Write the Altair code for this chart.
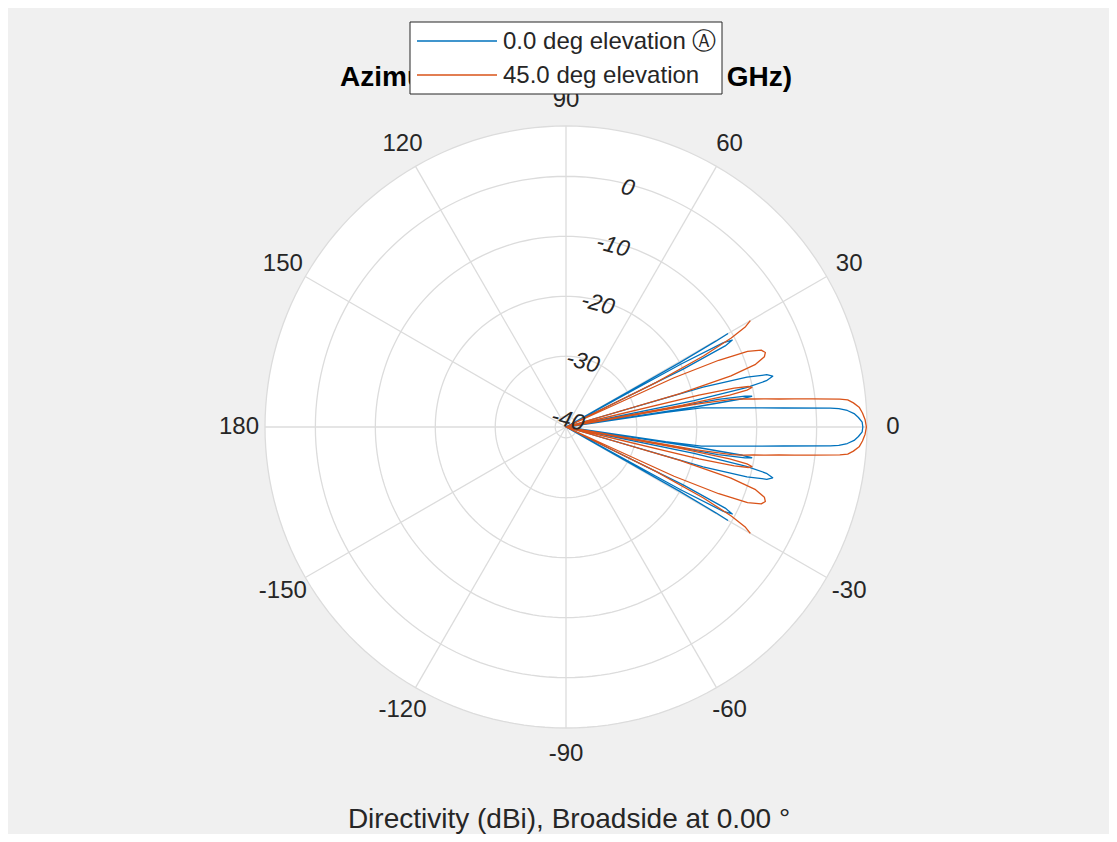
import altair as alt
import pandas as pd
import math

# ---------------- data ----------------
series_names = ["0.0 deg elevation \u24b6", "45.0 deg elevation"]
series_colors = ["#0072BD", "#D95319"]

# azimuth (deg) and directivity (dBi) along each curve; -45 = below the plot floor
blue_az = [-30, -29.8, -29.5, -29.1, -28.7, -28.2, -27.6, -27, -26.3, -25.6,
           -16.8, -16.2, -15.4, -14.6, -13.8, -13, -12.3, -11.6, -11.0,
           -10.8, -10.3, -9.8, -9.4, -9.1, -8.8, -8.6,
           -8.4, -8, -7, -6, -5, -4.1, -3.86, -3.36, -2.67, -1.86, -0.95,
           0, 0.95, 1.86, 2.67, 3.36, 3.86, 4.1, 5, 6, 7, 8, 8.4,
           8.6, 8.8, 9.1, 9.4, 9.8, 10.3, 10.8,
           11.0, 11.6, 12.3, 13, 13.8, 14.6, 15.4, 16.2, 16.8,
           25.6, 26.3, 27, 27.6, 28.2, 28.7, 29.1, 29.5, 29.8, 30]
blue_db = [-10.6, -13, -20, -45, -20, -12, -10.5, -12, -20, -45,
           -45, -18, -10.5, -7.2, -6.3, -7.5, -11, -20, -45,
           -45, -16, -11.5, -10.4, -12, -20, -45,
           -25, -19.0, -15.7, -11.4, -5.4, 2.4, 3.8, 5.2, 6.3, 7.0, 7.6,
           7.7, 7.6, 7.0, 6.3, 5.2, 3.8, 2.4, -5.4, -11.4, -15.7, -19.0, -25,
           -45, -20, -12, -10.4, -11.5, -16, -45,
           -45, -20, -11, -7.5, -6.3, -7.2, -10.5, -18, -45,
           -45, -20, -12, -10.5, -12, -20, -45, -20, -13, -10.6]

red_az = [-30, -29.2, -28.3, -27.3, -26.3, -25.3, -24.5, -23.6, -22.6, -21.5,
          -20.5, -19.5, -18.3, -17.2, -16.3, -13.9, -13.5, -13, -12.5, -12,
          -11.5, -11, -10.6, -10.3, -10, -9.5, -9, -8.5, -8, -7.5, -7, -6.5, -5.8,
          -5.5, -4.8, -3.87, -2.7, -1.38, 0, 1.38, 2.7, 3.87, 4.8, 5.5, 5.8,
          6.5, 7, 7.5, 8, 8.5, 9, 9.5,
          10, 10.3, 10.6, 11, 11.5, 12, 12.5, 13, 13.5, 13.9,
          16.3, 17.2, 18.3, 19.5, 20.5, 21.5, 22.6, 23.6, 24.5,
          25.3, 26.3, 27.3, 28.3, 29.2, 30]
red_db = [-6.3, -7.5, -10.5, -16, -25, -45, -22, -14, -9, -6.8,
          -6.3, -6.7, -8.5, -13, -22, -45, -19, -13, -10.6, -10.1,
          -11, -14, -22, -45, -20, -13.8, -11.9, -10.2, -8.2, -6.0, -3.4, -0.5, 4.1,
          5.4, 6.3, 7.2, 7.7, 8.1, 8.3, 8.1, 7.7, 7.2, 6.3, 5.4, 4.1,
          -0.5, -3.4, -6.0, -8.2, -10.2, -11.9, -13.8,
          -20, -45, -22, -14, -11, -10.1, -10.6, -13, -19, -45,
          -22, -13, -8.5, -6.7, -6.3, -6.8, -9, -14, -22,
          -45, -25, -16, -10.5, -7.5, -6.3]

ring_values = [-40, -30, -20, -10, 0]
ring_labels = ["-40", "-30", "-20", "-10", "0"]
angle_values = [0, 30, 60, 90, 120, 150, 180, -150, -120, -90, -60, -30]
angle_labels = ["0", "30", "60", "90", "120", "150", "180", "-150", "-120", "-90", "-60", "-30"]
spoke_angles = [0, 30, 60, 90, 120, 150, 180, 210, 240, 270, 300, 330]

title_text = "Azimuth Cut (frequency = 10 GHz)"
caption_text = "Directivity (dBi), Broadside at 0.00 \u00b0"

R_MIN = -41.8
R_MAX = 8.4
SPAN = R_MAX - R_MIN
D = 602  # plot diameter px
PX = D / 2 / SPAN
LABEL_R = 327 / PX
RING_LABEL_ANGLE = 75.5

TEXT = "#262626"
GRID = "#dcdcdc"

# ---------------- tables ----------------
rows = []
for name, azs, dbs in [(series_names[0], blue_az, blue_db), (series_names[1], red_az, red_db)]:
    for i, (a, d) in enumerate(zip(azs, dbs)):
        rows.append({"series": name, "az": a, "db": d, "i": i})
trace_df = pd.DataFrame(rows)

ring_rows = []
for rv in ring_values + [R_MAX]:
    for k, t in enumerate(range(0, 361, 2)):
        ring_rows.append({"ring": rv, "t": t, "k": k})
ring_df = pd.DataFrame(ring_rows)

spoke_df = pd.DataFrame({"a": spoke_angles})
alab_df = pd.DataFrame({"a": angle_values, "label": angle_labels})
rlab_df = pd.DataFrame({"v": ring_values, "label": ring_labels})
center_df = pd.DataFrame({"cx": [0.0], "cy": [0.0]})

xs = alt.Scale(domain=[-SPAN, SPAN])
ys = alt.Scale(domain=[-SPAN, SPAN])
X = lambda f: alt.X(f, type="quantitative", scale=xs, axis=None)
Y = lambda f: alt.Y(f, type="quantitative", scale=ys, axis=None)

disc = alt.Chart(center_df).mark_point(
    shape="circle", filled=True, fill="white", opacity=1, strokeWidth=0, size=D * D
).encode(x=X("cx"), y=Y("cy"))

rings = alt.Chart(ring_df).transform_calculate(
    rr=f"max(0, datum.ring - ({R_MIN}))",
).transform_calculate(
    x="datum.rr*cos(datum.t*PI/180)",
    y="datum.rr*sin(datum.t*PI/180)",
).mark_line(color=GRID, strokeWidth=1.3).encode(
    x=X("x"), y=Y("y"), detail="ring:N", order="k:Q"
)

spokes = alt.Chart(spoke_df).transform_calculate(
    x0="0", y0="0",
    x1=f"{SPAN}*cos(datum.a*PI/180)",
    y1=f"{SPAN}*sin(datum.a*PI/180)",
).mark_rule(color=GRID, strokeWidth=1.3).encode(
    x=X("x0"), y=Y("y0"), x2="x1:Q", y2="y1:Q"
)

traces = alt.Chart(trace_df).transform_calculate(
    rr=f"max(0, datum.db - ({R_MIN}))",
).transform_calculate(
    x="datum.rr*cos(datum.az*PI/180)",
    y="datum.rr*sin(datum.az*PI/180)",
).mark_line(strokeWidth=1.3, clip=False, strokeJoin="round").encode(
    x=X("x"), y=Y("y"),
    color=alt.Color("series:N", scale=alt.Scale(domain=series_names, range=series_colors), legend=None),
    order="i:Q",
)

alabels = alt.Chart(alab_df).transform_calculate(
    x=f"{LABEL_R}*cos(datum.a*PI/180)",
    y=f"{LABEL_R}*sin(datum.a*PI/180)",
).mark_text(font="Liberation Sans", fontSize=24, color=TEXT, align="center", baseline="middle").encode(
    x=X("x"), y=Y("y"), text="label:N"
)

rlabels = alt.Chart(rlab_df).transform_calculate(
    rr=f"datum.v - ({R_MIN}) - 0.6",
).transform_calculate(
    x=f"datum.rr*cos({RING_LABEL_ANGLE}*PI/180)",
    y=f"datum.rr*sin({RING_LABEL_ANGLE}*PI/180)",
).mark_text(font="Liberation Sans", fontSize=23, fontStyle="italic", color=TEXT,
            align="center", baseline="middle", angle=15).encode(
    x=X("x"), y=Y("y"), text="label:N"
)

one = pd.DataFrame({"z": [0]})
title = alt.Chart(one).mark_text(text=title_text, font="Liberation Sans", fontSize=28, fontWeight="bold",
                                 color="black", align="center", baseline="alphabetic").encode(
    x=alt.value(301), y=alt.value(-40))
caption = alt.Chart(one).mark_text(text=caption_text, font="Liberation Sans", fontSize=28,
                                   color=TEXT, align="center", baseline="alphabetic").encode(
    x=alt.value(304), y=alt.value(702))

leg_box = alt.Chart(one).mark_rect(fill="white", stroke=TEXT, strokeWidth=1).encode(
    x=alt.value(145), x2=alt.value(457), y=alt.value(-104), y2=alt.value(-32))
leg_df = pd.DataFrame({"series": series_names, "row": [0, 1]})
leg_lines = alt.Chart(leg_df).transform_calculate(
    yy="-85 + datum.row*34"
).mark_rule(strokeWidth=1.5).encode(
    x=alt.value(152), x2=alt.value(232), y=alt.Y("yy:Q", scale=None),
    color=alt.Color("series:N", scale=alt.Scale(domain=series_names, range=series_colors), legend=None),
)
leg_text = alt.Chart(leg_df).transform_calculate(
    yy="-84 + datum.row*34"
).mark_text(font="Liberation Sans", fontSize=24, color=TEXT, align="left", baseline="middle").encode(
    x=alt.value(238), y=alt.Y("yy:Q", scale=None), text="series:N"
)

chart = alt.layer(
    disc, rings, spokes, traces, alabels, rlabels, title, caption, leg_box, leg_lines, leg_text
).properties(
    width=D, height=D,
    background="#f0f0f0",
    padding={"left": 257, "top": 118, "right": 242, "bottom": 106},
    autosize=alt.AutoSizeParams(type="none"),
).resolve_scale(color="shared").configure_view(strokeWidth=0)

chart.save("out.html", embed_options={"renderer": "svg", "actions": False})
